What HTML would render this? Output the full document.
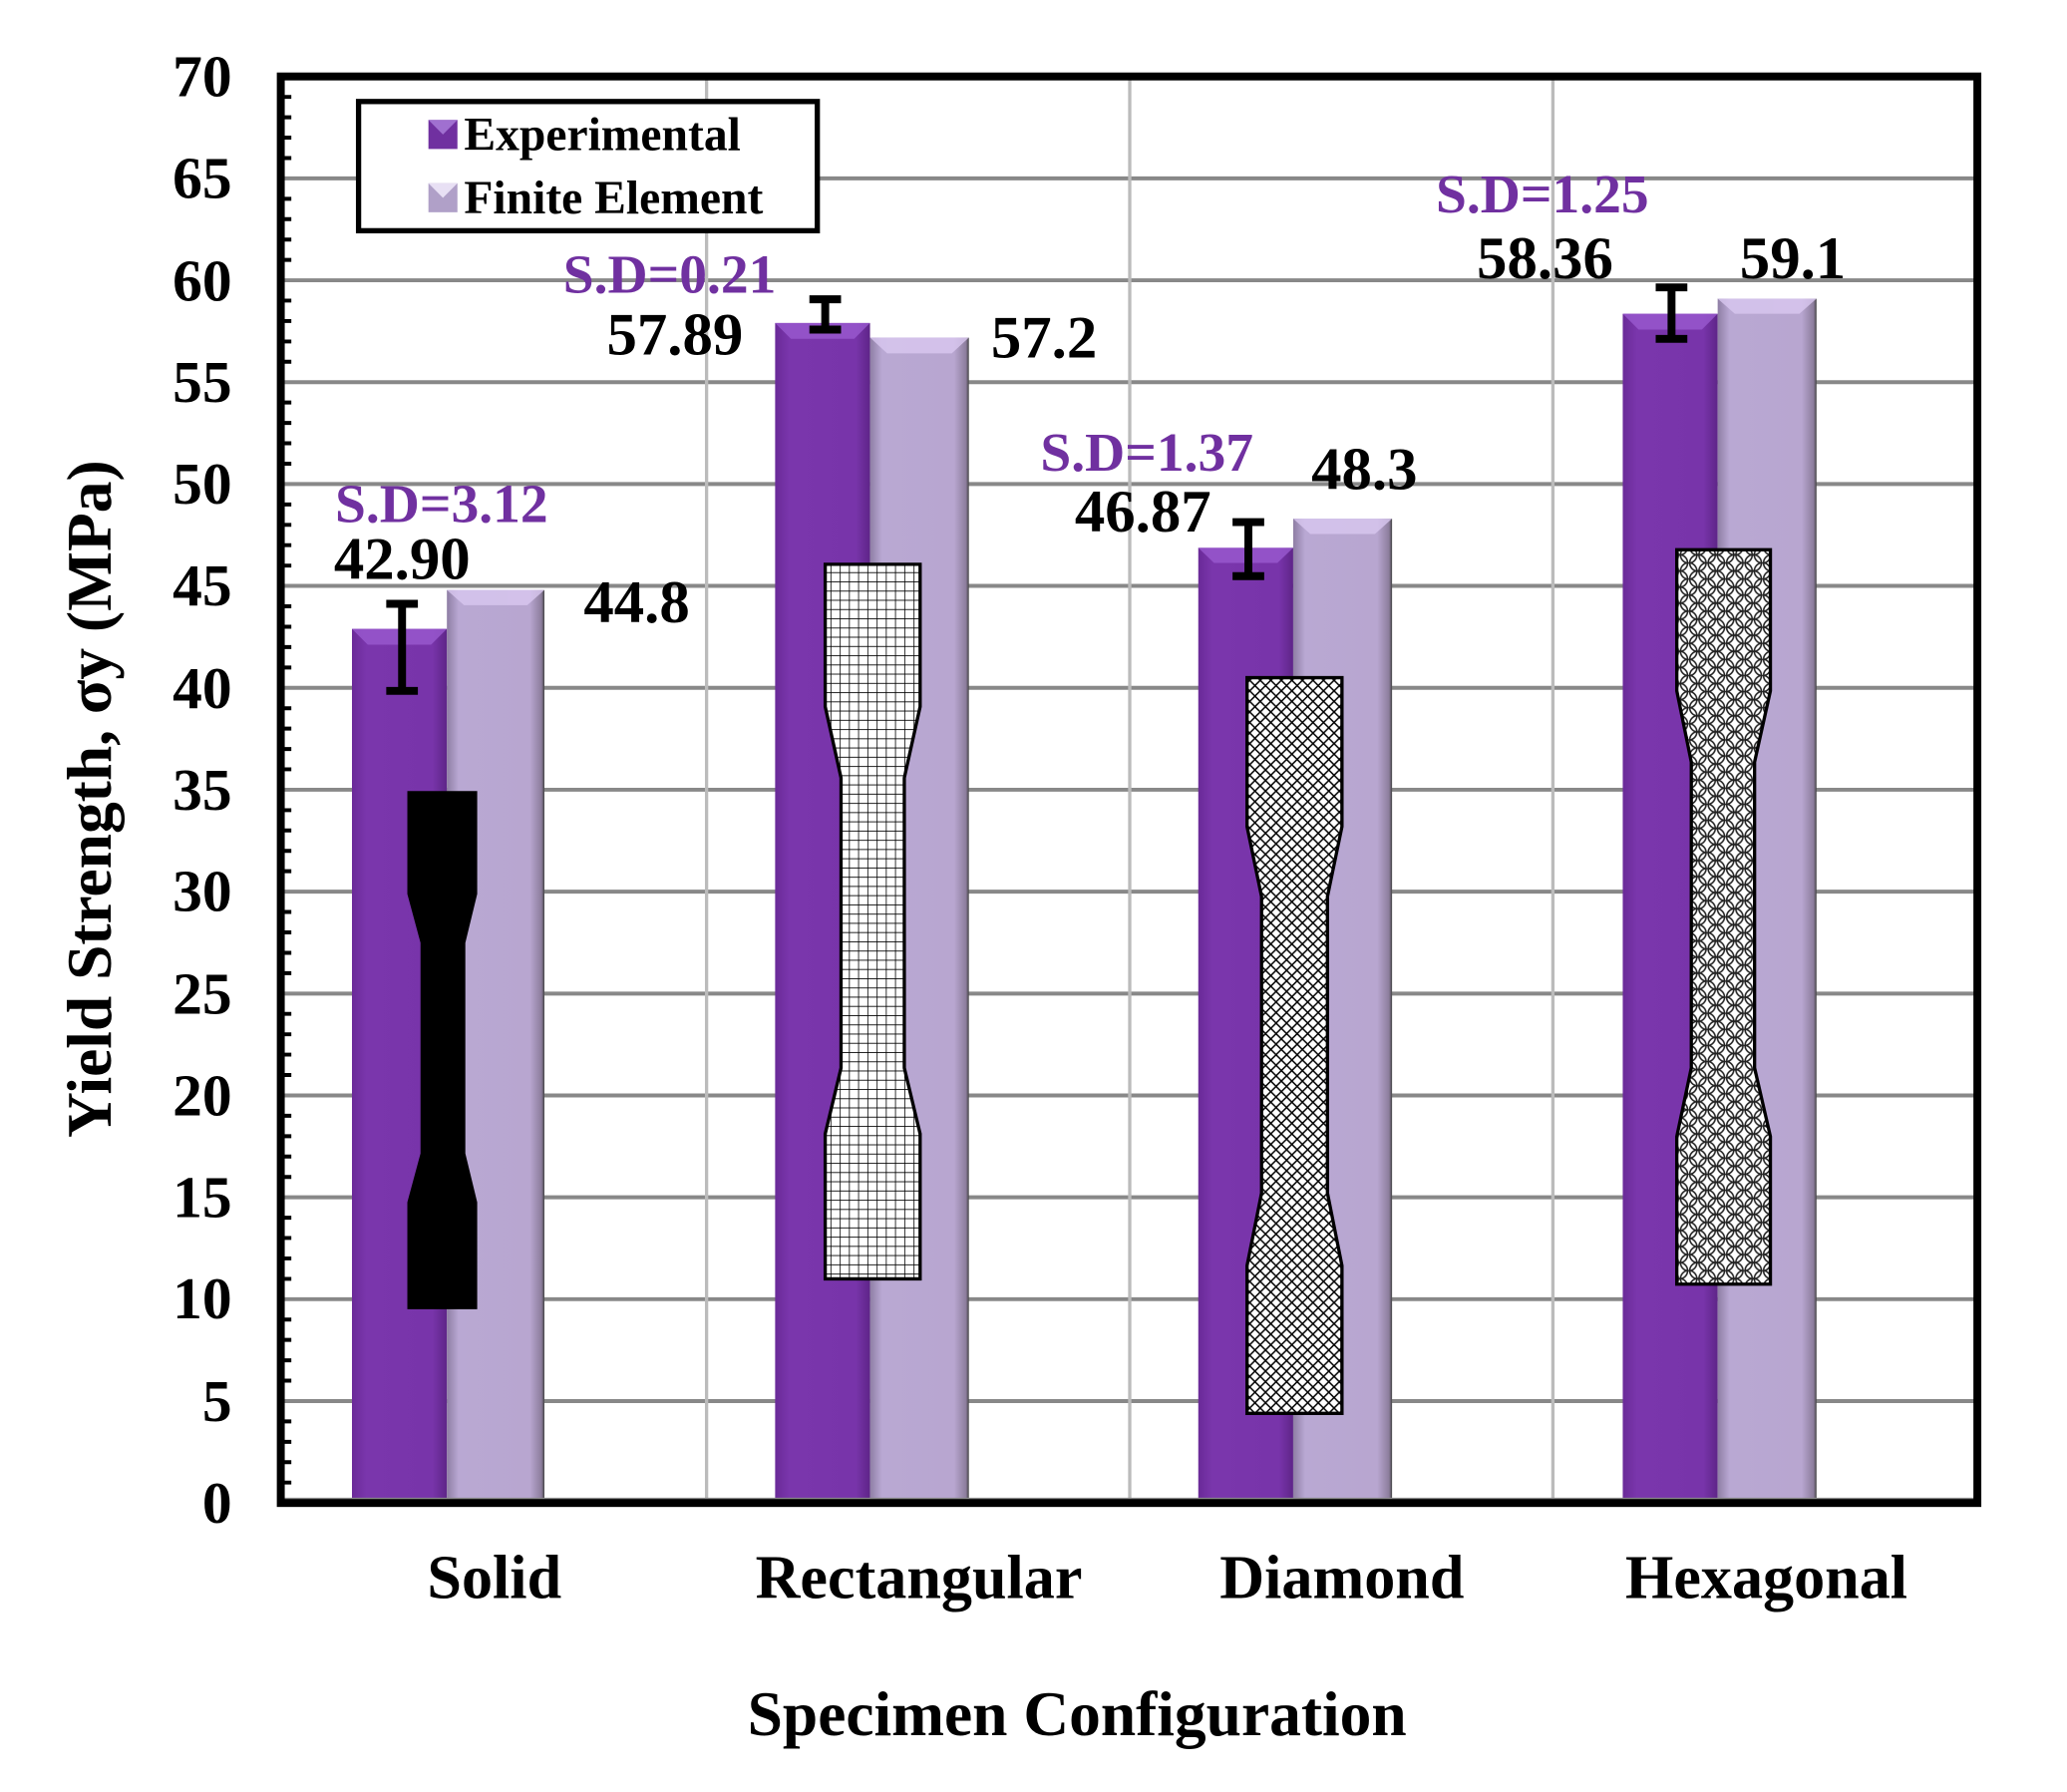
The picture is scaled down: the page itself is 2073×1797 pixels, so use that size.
<!DOCTYPE html>
<html><head><meta charset="utf-8"><style>
html,body{margin:0;padding:0;background:#fff}
svg{display:block}
text{font-family:"Liberation Serif",serif;font-weight:bold}
</style></head><body>
<svg width="2073" height="1797" viewBox="0 0 1568 1359.2" preserveAspectRatio="none" xmlns="http://www.w3.org/2000/svg">
<defs>
<linearGradient id="ge" x1="0" x2="1" y1="0" y2="0">
<stop offset="0" stop-color="#6a2a98"/><stop offset="0.15" stop-color="#7a36ac"/><stop offset="0.85" stop-color="#7834aa"/><stop offset="1" stop-color="#5e2588"/></linearGradient>
<linearGradient id="gf" x1="0" x2="1" y1="0" y2="0">
<stop offset="0" stop-color="#8e7ea4"/><stop offset="0.12" stop-color="#b9a8d3"/><stop offset="0.85" stop-color="#b8a6d0"/><stop offset="0.97" stop-color="#8c7d9c"/><stop offset="1" stop-color="#444"/></linearGradient>
<pattern id="pg" width="7" height="7" patternUnits="userSpaceOnUse"><rect width="7" height="7" fill="#fff"/><path d="M0 0H7M0 0V7" stroke="#000" stroke-width="1.2"/></pattern>
<pattern id="pd" width="8" height="8" patternUnits="userSpaceOnUse"><rect width="8" height="8" fill="#fff"/><path d="M0 0L8 8M8 0L0 8" stroke="#000" stroke-width="1.1"/></pattern>
<pattern id="ph" width="14" height="12.2" patternUnits="userSpaceOnUse"><rect width="14" height="12.2" fill="#fff"/><g fill="none" stroke="#222" stroke-width="1.2"><circle cx="0" cy="0" r="6.2"/><circle cx="14" cy="0" r="6.2"/><circle cx="0" cy="12.2" r="6.2"/><circle cx="14" cy="12.2" r="6.2"/><circle cx="7" cy="6.1" r="6.2"/></g></pattern>
</defs>
<g stroke="#888" stroke-width="3">
<line x1="213" x2="1500" y1="985.4" y2="985.4"/><line x1="213" x2="1500" y1="830.9" y2="830.9"/><line x1="213" x2="1500" y1="676.3" y2="676.3"/><line x1="213" x2="1500" y1="521.7" y2="521.7"/><line x1="213" x2="1500" y1="367.1" y2="367.1"/><line x1="213" x2="1500" y1="212.6" y2="212.6"/><line x1="213" x2="1500" y1="1062.7" y2="1062.7"/><line x1="213" x2="1500" y1="908.1" y2="908.1"/><line x1="213" x2="1500" y1="753.6" y2="753.6"/><line x1="213" x2="1500" y1="599" y2="599"/><line x1="213" x2="1500" y1="444.4" y2="444.4"/><line x1="213" x2="1500" y1="289.9" y2="289.9"/><line x1="213" x2="1500" y1="135.3" y2="135.3"/>
</g>
<g stroke="#bbb" stroke-width="2.5"><line x1="536" x2="536" y1="58" y2="1140"/><line x1="857" x2="857" y1="58" y2="1140"/><line x1="1178" x2="1178" y1="58" y2="1140"/></g>
<g>
<rect x="267" y="477" width="72" height="663" fill="url(#ge)"/><rect x="339" y="447.5" width="74" height="692.5" fill="url(#gf)"/>
<rect x="588" y="245" width="72" height="895" fill="url(#ge)"/><rect x="660" y="256" width="75" height="884" fill="url(#gf)"/>
<rect x="909" y="415.5" width="72" height="724.5" fill="url(#ge)"/><rect x="981" y="393.4" width="75" height="746.6" fill="url(#gf)"/>
<rect x="1231" y="238" width="72" height="902" fill="url(#ge)"/><rect x="1303" y="226.5" width="75" height="913.5" fill="url(#gf)"/>
</g>
<g fill="#d9c8f0" opacity="0.8">
<polygon points="267,477 339,477 327,489 279,489" fill="#9a5ad0"/><polygon points="339,447.5 413,447.5 400,459 352,459"/>
<polygon points="588,245 660,245 648,257 600,257" fill="#9a5ad0"/><polygon points="660,256 735,256 722,268 673,268"/>
<polygon points="909,415.5 981,415.5 969,427 921,427" fill="#9a5ad0"/><polygon points="981,393.4 1056,393.4 1043,405 994,405"/>
<polygon points="1231,238 1303,238 1291,250 1243,250" fill="#9a5ad0"/><polygon points="1303,226.5 1378,226.5 1365,238 1316,238"/>
</g>
<polygon points="310,601 361,601 361,678 352,715 352,875 361,912 361,992 310,992 310,912 320,875 320,715 310,678" fill="#000" stroke="#000" stroke-width="2"/>
<polygon points="626,428 698,428 698,536 686,590 686,810 698,860 698,970 626,970 626,860 638,810 638,590 626,536" fill="url(#pg)" stroke="#000" stroke-width="2.5"/>
<polygon points="946,514 1018,514 1018,627 1007,680 1007,905 1018,960 1018,1072 946,1072 946,960 957,905 957,680 946,627" fill="url(#pd)" stroke="#000" stroke-width="2.5"/>
<polygon points="1272,417 1343,417 1343,524 1331,578 1331,810 1343,862 1343,974 1272,974 1272,862 1283,810 1283,578 1272,524" fill="url(#ph)" stroke="#000" stroke-width="2.5"/>
<g stroke="#000" stroke-width="6" fill="none">
<path d="M305 524V458M293 458H317M293 524H317"/>
<path d="M626 250V227M614 227H638M614 250H638"/>
<path d="M947 437V396M935 396H959M935 437H959"/>
<path d="M1268 257V218M1256 218H1280M1256 257H1280"/>
</g>
<line x1="213" x2="1500" y1="1138" y2="1138" stroke="#888" stroke-width="4"/>
<rect x="213" y="58" width="1287" height="1082" fill="none" stroke="#000" stroke-width="6"/>
<g stroke="#000" stroke-width="3">
<path d="M213 1124.5h8M213 1109h8M213 1093.6h8M213 1078.1h8M213 1047.2h8M213 1031.8h8M213 1016.3h8M213 1000.9h8M213 970h8M213 954.5h8M213 939h8M213 923.6h8M213 892.7h8M213 877.2h8M213 861.8h8M213 846.3h8M213 815.4h8M213 799.9h8M213 784.5h8M213 769h8M213 738.1h8M213 722.7h8M213 707.2h8M213 691.7h8M213 660.8h8M213 645.4h8M213 629.9h8M213 614.5h8M213 583.5h8M213 568.1h8M213 552.6h8M213 537.2h8M213 506.3h8M213 490.8h8M213 475.4h8M213 459.9h8M213 429h8M213 413.5h8M213 398.1h8M213 382.6h8M213 351.7h8M213 336.2h8M213 320.8h8M213 305.3h8M213 274.4h8M213 259h8M213 243.5h8M213 228h8M213 197.1h8M213 181.7h8M213 166.2h8M213 150.8h8M213 119.9h8M213 104.4h8M213 89h8M213 73.5h8"/>
</g>
<g font-size="45" text-anchor="end">
<text x="176" y="1155">0</text><text x="176" y="1078">5</text><text x="176" y="1000">10</text><text x="176" y="923">15</text><text x="176" y="846">20</text><text x="176" y="769">25</text><text x="176" y="691">30</text><text x="176" y="614">35</text><text x="176" y="537">40</text><text x="176" y="459">45</text><text x="176" y="382">50</text><text x="176" y="305">55</text><text x="176" y="228">60</text><text x="176" y="150">65</text><text x="176" y="73">70</text>
</g>
<text transform="translate(84,606) rotate(-90)" font-size="48" text-anchor="middle">Yield Strength, σy (MPa)</text>
<g font-size="47" text-anchor="middle">
<text x="375" y="1212">Solid</text><text x="697" y="1212">Rectangular</text><text x="1018" y="1212">Diamond</text><text x="1340" y="1212">Hexagonal</text>
</g>
<text x="817" y="1316" font-size="48" text-anchor="middle">Specimen Configuration</text>
<rect x="272" y="77" width="348" height="98" fill="#fff" stroke="#000" stroke-width="4"/>
<rect x="325" y="91" width="22" height="22" fill="#7030a0"/><polygon points="325,91 347,91 336,102" fill="#a070d0"/>
<rect x="325" y="139" width="22" height="22" fill="#b0a0c8"/><polygon points="325,139 347,139 336,150" fill="#e8e0f4"/>
<text x="352" y="114" font-size="36">Experimental</text>
<text x="352" y="162" font-size="36">Finite Element</text>
<g font-size="42" fill="#7030a0" text-anchor="middle">
<text x="335" y="396">S.D=3.12</text><text x="508" y="222">S.D=0.21</text><text x="870" y="357">S.D=1.37</text><text x="1170" y="161">S.D=1.25</text>
</g>
<g font-size="46" text-anchor="middle">
<text x="305" y="439">42.90</text><text x="483" y="472">44.8</text>
<text x="512" y="269">57.89</text><text x="792" y="271">57.2</text>
<text x="867" y="403">46.87</text><text x="1035" y="371">48.3</text>
<text x="1172" y="211">58.36</text><text x="1360" y="211">59.1</text>
</g>
</svg>
</body></html>
